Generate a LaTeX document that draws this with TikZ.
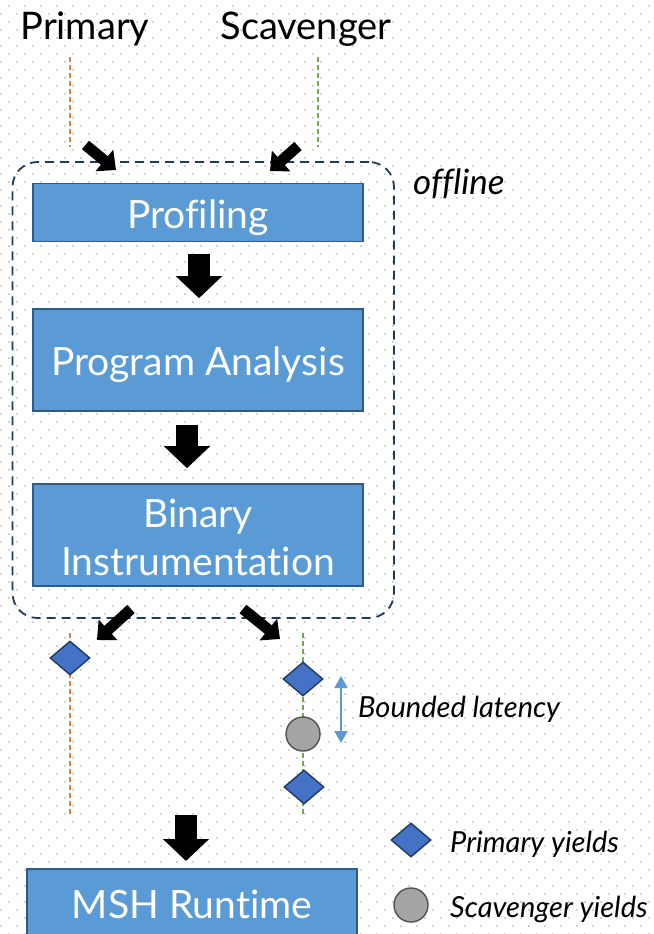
\documentclass[tikz,border=0pt]{standalone}
\usepackage{fontspec}
\setmainfont[Ligatures=NoCommon]{Lato}
\usetikzlibrary{arrows.meta,shapes.geometric,calc}

\definecolor{boxfill}{HTML}{5B9BD5}
\definecolor{boxline}{HTML}{2E5A88}
\definecolor{framecol}{HTML}{1F3A5F}
\definecolor{primline}{HTML}{ED7D31}
\definecolor{scavline}{HTML}{70AD47}
\definecolor{yieldfill}{HTML}{4472C4}
\definecolor{yieldline}{HTML}{1F3864}
\definecolor{scavfill}{HTML}{A5A5A5}
\definecolor{scavdraw}{HTML}{505050}
\definecolor{dotcol}{HTML}{D2D2D2}

\tikzset{
  stagebox/.style={draw=boxline, line width=1.6pt, fill=boxfill, text=white,
    font=\fontsize{39}{48}\selectfont, align=center, inner sep=0pt,
    minimum width=330pt},
  oneline/.style={text height=31pt, text depth=0pt},
  groupframe/.style={draw=framecol, line width=1.8pt, dash pattern=on 9pt off 6pt,
    rounded corners=25pt, inner sep=0pt},
  bigarrow/.style={line width=22pt, -{Triangle[length=22pt,width=45pt]}},
  smallarrow/.style={line width=11pt, -{Triangle[length=15pt,width=27pt]}},
  timeline/.style={line width=1.8pt, dash pattern=on 5pt off 3pt},
  pyield/.style={diamond, draw=yieldline, line width=1.4pt, fill=yieldfill,
    minimum width=40pt, minimum height=34pt, inner sep=0pt},
  syield/.style={circle, draw=scavdraw, line width=1.4pt, fill=scavfill,
    minimum size=34pt, inner sep=0pt},
  headlabel/.style={font=\fontsize{38}{42}\selectfont, anchor=base},
  notelabel/.style={font=\itshape\fontsize{29}{32}\selectfont, anchor=base west, inner sep=0pt},
}

\begin{document}
\begin{tikzpicture}[x=1pt,y=-1pt]
\useasboundingbox (0,0) rectangle (653,934);
\clip (0,0) rectangle (653,934);
\fill[white] (0,0) rectangle (653,934);

% staggered dot grid
\foreach \yy in {6,22,...,934}
  \draw[dotcol, line width=1.6pt, dash pattern=on 1.6pt off 14.4pt] (8.2,\yy) -- (653,\yy);
\foreach \yy in {14,30,...,934}
  \draw[dotcol, line width=1.6pt, dash pattern=on 1.6pt off 14.4pt] (0.2,\yy) -- (653,\yy);

% thread names
\node[headlabel] (primary) at (85,40) {Primary};
\node[headlabel] (scavenger) at (306,40) {Scavenger};

% incoming timelines
\coordinate (ptopA) at (70,57);
\coordinate (ptopB) at (70,147);
\coordinate (stopA) at (318,57);
\coordinate (stopB) at (318,147);
\draw[timeline, primline] (ptopA) -- (ptopB);
\draw[timeline, scavline] (stopA) -- (stopB);

% offline toolchain
\node[groupframe, minimum width=381.5pt, minimum height=456pt] (offbox) at (203.25,390) {};
\node[font=\itshape\fontsize{35}{38}\selectfont, anchor=base west, inner sep=0pt] (offline) at (413,194) {offline};

\node[stagebox, oneline, minimum height=58pt] (prof) at (198,212.5) {Profiling};
\node[stagebox, oneline, minimum height=102pt] (pa) at (198,360) {Program Analysis};
\node[stagebox, minimum height=102pt, text height=80pt, text depth=0pt] (bi) at (198,535) {Binary\\Instrumentation};

% arrows into the toolchain
\coordinate (pin0) at (85.5,145);
\coordinate (pin1) at (116,170);
\coordinate (sin0) at (298,146);
\coordinate (sin1) at (270,171);
\draw[smallarrow] (pin0) -- (pin1);
\draw[smallarrow] (sin0) -- (sin1);

% stage arrows
\draw[bigarrow] ($(prof.south)+(1,12)$) -- ($(pa.north)+(1,-10)$);
\draw[bigarrow] ($(pa.south)+(-11,13)$) -- ($(bi.north)+(-11,-15)$);

% arrows out of the toolchain
\coordinate (pout0) at (131,609);
\coordinate (pout1) at (97,640);
\coordinate (sout0) at (243,609);
\coordinate (sout1) at (280,639);
\draw[smallarrow] (pout0) -- (pout1);
\draw[smallarrow] (sout0) -- (sout1);

% instrumented timelines
\coordinate (pbotA) at (70,633);
\coordinate (pbotB) at (70,817);
\coordinate (sbotA) at (303,633);
\coordinate (sbotB) at (303,817);
\draw[timeline, primline] (pbotA) -- (pbotB);
\draw[timeline, scavline] (sbotA) -- (sbotB);

\node[pyield] (py1) at (70,658) {};
\node[pyield] (sy1) at (303,679) {};
\node[syield] (sc1) at (303,734) {};
\node[pyield] (sy2) at (304,787) {};

% latency bound
\coordinate (latA) at (341,676);
\coordinate (latB) at (341,743);
\draw[boxfill, line width=2pt, {Triangle[length=12pt,width=13pt]}-{Triangle[length=12pt,width=13pt]}] (latA) -- (latB);
\node[notelabel] (latency) at (358,717) {Bounded latency};

% runtime
\node[stagebox, minimum height=110pt, anchor=north] (msh) at (192,868) {};
\node[font=\fontsize{39}{48}\selectfont, text=white, anchor=base] (mshtext) at (192,918) {MSH Runtime};
\coordinate (mshin) at (186,815);
\draw[bigarrow] (mshin) -- ($(msh.north)+(-6,-7)$);

% legend
\node[pyield] (legp) at (411,840) {};
\node[notelabel] (legptext) at (450,852) {Primary yields};
\node[syield] (legs) at (411,905) {};
\node[notelabel] (legstext) at (450,917) {Scavenger yields};
\end{tikzpicture}
\end{document}
